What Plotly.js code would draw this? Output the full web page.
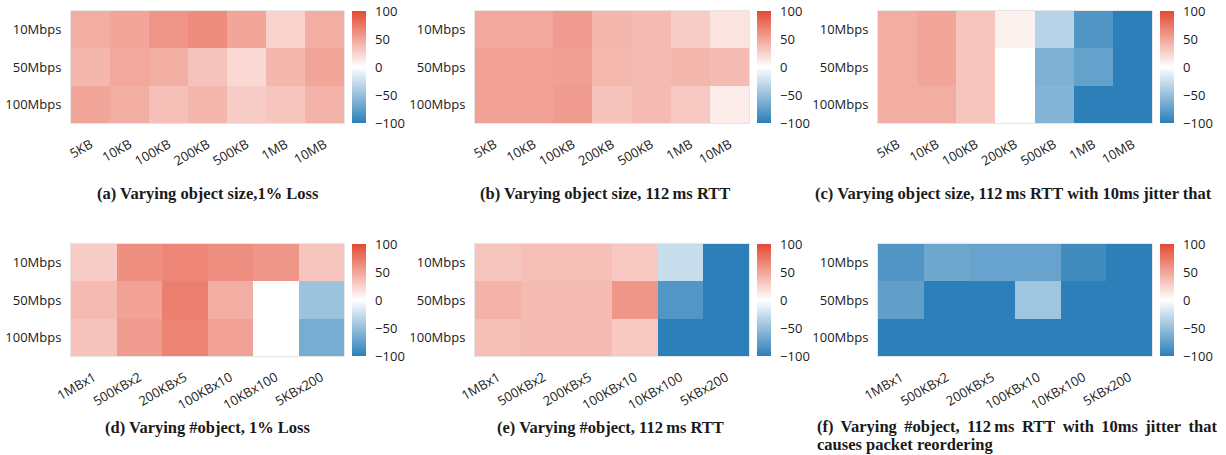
<!DOCTYPE html>
<html>
<head>
<meta charset="utf-8">
<script src="https://cdn.plot.ly/plotly-3.0.1.min.js"></script>
<style>html,body{margin:0;padding:0;background:#fff;}#chart{width:1226px;height:455px;}</style>
</head>
<body>
<div id="chart"></div>
<script>
// ---- data ----
const sizeLabels = ['5KB','10KB','100KB','200KB','500KB','1MB','10MB'];
const objLabels = ['1MBx1','500KBx2','200KBx5','100KBx10','10KBx100','5KBx200'];
const rateLabels = ['10Mbps','50Mbps','100Mbps'];

const zSizeLoss = [
  [45, 50, 58, 63, 50, 25, 45],
  [40, 48, 45, 33, 22, 40, 50],
  [50, 45, 35, 40, 28, 32, 42]
];
const zSizeRtt = [
  [48, 48, 55, 40, 38, 28, 15],
  [52, 52, 53, 39, 38, 40, 38],
  [52, 52, 55, 33, 38, 30, 10]
];
const zSizeJitter = [
  [45, 50, 32, 8, -34, -83, -100],
  [45, 50, 32, 0, -61, -73, -100],
  [45, 45, 32, 0, -58, -100, -100]
];
const zObjLoss = [
  [28, 62, 67, 62, 58, 32],
  [38, 52, 70, 45, 0, -47],
  [33, 55, 68, 52, 0, -64]
];
const zObjRtt = [
  [32, 35, 35, 30, -26, -100],
  [42, 38, 38, 58, -82, -100],
  [36, 38, 38, 30, -100, -100]
];
const zObjJitter = [
  [-83, -69, -72, -72, -90, -100],
  [-75, -100, -100, -45, -100, -100],
  [-100, -100, -100, -100, -100, -100]
];

const captions = [
  '(a) Varying object size,1% Loss',
  '(b) Varying object size, 112\u2009ms RTT',
  '(c) Varying object size, 112\u2009ms RTT with 10ms jitter that',
  '(d) Varying #object, 1% Loss',
  '(e) Varying #object, 112\u2009ms RTT',
  '(f)\u2009 Varying\u2009 #object,\u2009 112\u2009ms\u2009 RTT\u2009 with\u2009 10ms\u2009 jitter\u2009 that',
  'causes packet reordering'
];

// ---- layout geometry ----
const W = 1226, H = 455;
const colPx = [[71, 344], [475, 749], [878, 1152]];
const rowPx = [[11, 123], [244, 356]];
const cs = [[0, 'rgb(44,127,184)'], [0.5, 'rgb(255,255,255)'], [1, 'rgb(228,74,51)']];
const font = {family: '"Open Sans", sans-serif', size: 13, color: '#1a1a1a'};

const panels = [
  {z: zSizeLoss, x: sizeLabels},
  {z: zSizeRtt, x: sizeLabels},
  {z: zSizeJitter, x: sizeLabels},
  {z: zObjLoss, x: objLabels},
  {z: zObjRtt, x: objLabels},
  {z: zObjJitter, x: objLabels}
];

const data = [];
const layout = {
  width: W, height: H,
  margin: {l: 0, r: 0, t: 0, b: 0},
  paper_bgcolor: '#fff', plot_bgcolor: '#fff',
  font: font,
  showlegend: false,
  annotations: []
};

panels.forEach((p, i) => {
  const r = Math.floor(i / 3), c = i % 3;
  const n = i + 1;
  const xa = n === 1 ? 'x' : 'x' + n;
  const ya = n === 1 ? 'y' : 'y' + n;
  const xd = [colPx[c][0] / W, colPx[c][1] / W];
  const yd = [1 - rowPx[r][1] / H, 1 - rowPx[r][0] / H];
  data.push({
    type: 'heatmap',
    z: p.z, x: p.x, y: rateLabels,
    xaxis: xa, yaxis: ya,
    zmin: -100, zmax: 100,
    colorscale: cs,
    colorbar: {
      x: (colPx[c][1] + 8) / W, xanchor: 'left', xpad: 0, ypad: 0,
      y: (yd[0] + yd[1]) / 2, yanchor: 'middle',
      len: yd[1] - yd[0], lenmode: 'fraction',
      thickness: 14, outlinewidth: 0,
      tickvals: [-100, -50, 0, 50, 100],
      ticks: 'outside', ticklen: 7, tickcolor: 'rgba(0,0,0,0)',
      tickfont: font
    },
    hoverinfo: 'skip'
  });
  layout['xaxis' + (n === 1 ? '' : n)] = {
    domain: xd, anchor: ya, type: 'category',
    tickangle: -30, ticks: 'outside', ticklen: 8, tickcolor: 'rgba(0,0,0,0)',
    showline: true, linecolor: '#e6e6e6', linewidth: 1, mirror: true,
    showgrid: false, zeroline: false, tickfont: font, fixedrange: true
  };
  layout['yaxis' + (n === 1 ? '' : n)] = {
    domain: yd, anchor: xa, type: 'category', autorange: 'reversed',
    ticks: 'outside', ticklen: 6, tickcolor: 'rgba(0,0,0,0)',
    showline: true, linecolor: '#e6e6e6', linewidth: 1, mirror: true,
    showgrid: false, zeroline: false, tickfont: font, fixedrange: true
  };
});

const capFont = {family: '"Liberation Serif", "DejaVu Serif", serif', size: 16.5, color: '#1a1a1a'};
const capPos = [
  {x: 208, y: 193, xa: 'center'},
  {x: 605, y: 193, xa: 'center'},
  {x: 813, y: 193, xa: 'left'},
  {x: 207, y: 427, xa: 'center'},
  {x: 610, y: 427, xa: 'center'},
  {x: 815, y: 426, xa: 'left'},
  {x: 815, y: 444, xa: 'left'}
];
captions.forEach((t, i) => {
  layout.annotations.push({
    text: '<b>' + t + '</b>',
    xref: 'paper', yref: 'paper',
    x: capPos[i].x / W, y: 1 - capPos[i].y / H,
    xanchor: capPos[i].xa, yanchor: 'middle',
    showarrow: false, font: capFont
  });
});

Plotly.newPlot('chart', data, layout, {displayModeBar: false, staticPlot: true});
</script>
</body>
</html>
